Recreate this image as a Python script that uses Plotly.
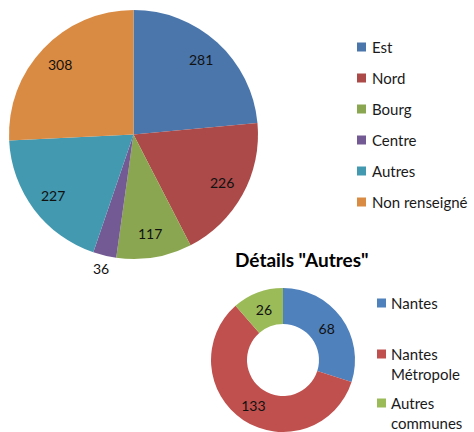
import math
import plotly.graph_objects as go

# Data
main_labels = ["Est", "Nord", "Bourg", "Centre", "Autres", "Non renseigné"]
main_values = [281, 226, 117, 36, 227, 308]
main_colors = ["#4A76AB", "#AB4A48", "#8BA650", "#745A95", "#4299B0", "#D98A43"]

detail_title = 'Détails "Autres"'
detail_labels = ["Nantes", "Nantes<br>Métropole", "Autres<br>communes"]
detail_values = [68, 133, 26]
detail_colors = ["#4F81BD", "#C0504D", "#9BBB59"]

W, H = 474, 432
FONT = "Lato"
LEG_SIZE = 15
LBL_SIZE = 14

def px(x):
    return x / W

def py(y):
    return 1 - y / H

# main pie geometry (pixels)
CX, CY, R = 133.5, 134.5, 124.5

fig = go.Figure()

fig.add_trace(go.Pie(
    labels=main_labels, values=main_values,
    marker=dict(colors=main_colors, line=dict(color="white", width=0)),
    sort=False, direction="clockwise", rotation=0,
    textinfo="none",
    domain=dict(x=[px(CX - R), px(CX + R)], y=[py(CY + R), py(CY - R)]),
    showlegend=False, hoverinfo="label+value",
))

fig.add_trace(go.Pie(
    labels=detail_labels, values=detail_values, hole=0.5,
    marker=dict(colors=detail_colors, line=dict(color="white", width=0)),
    sort=False, direction="clockwise", rotation=0,
    textinfo="value", textposition="inside",
    insidetextorientation="horizontal",
    textfont=dict(family=FONT, size=LBL_SIZE, color="#111111"),
    domain=dict(x=[px(210), px(356)], y=[0, py(288)]),
    showlegend=False, hoverinfo="label+value",
))

shapes = []
annotations = []

# data labels of the main pie, placed on each slice's bisector
total = sum(main_values)
cum = 0
for v in main_values:
    mid = 2 * math.pi * (cum + v / 2) / total
    cum += v
    frac = 0.81 if v / total > 0.05 else 1.11
    lx = CX + frac * R * math.sin(mid)
    ly = CY - frac * R * math.cos(mid)
    annotations.append(dict(text=str(v), xref="paper", yref="paper", x=px(lx), y=py(ly),
                            xanchor="center", yanchor="middle", showarrow=False,
                            font=dict(family=FONT, size=LBL_SIZE, color="#111111")))

# Legend 1
leg1_y = [47, 78, 109, 140, 171, 202]
for lab, col, yc in zip(main_labels, main_colors, leg1_y):
    shapes.append(dict(type="rect", xref="paper", yref="paper",
                       x0=px(357), x1=px(366), y0=py(yc + 4.5), y1=py(yc - 4.5),
                       fillcolor=col, line=dict(width=0)))
    annotations.append(dict(text=lab, xref="paper", yref="paper", x=px(370), y=py(yc),
                            xanchor="left", yanchor="middle", showarrow=False,
                            font=dict(family=FONT, size=LEG_SIZE, color="#1a1a1a")))

# Legend 2
leg2_y = [303, 364, 413]
for lab, col, yc in zip(detail_labels, detail_colors, leg2_y):
    lines = lab.count("<br>") + 1
    top = yc - (lines - 1) * 10
    shapes.append(dict(type="rect", xref="paper", yref="paper",
                       x0=px(377), x1=px(386), y0=py(top + 4.5), y1=py(top - 4.5),
                       fillcolor=col, line=dict(width=0)))
    annotations.append(dict(text=lab, xref="paper", yref="paper", x=px(389), y=py(yc),
                            xanchor="left", yanchor="middle", align="left", showarrow=False,
                            font=dict(family=FONT, size=LEG_SIZE, color="#1a1a1a")))

annotations.append(dict(text="<b>" + detail_title + "</b>", xref="paper", yref="paper",
                        x=px(302), y=py(259), xanchor="center", yanchor="middle",
                        showarrow=False, font=dict(family=FONT, size=19, color="#000000")))

fig.update_layout(
    width=W, height=H, margin=dict(l=0, r=0, t=0, b=0),
    paper_bgcolor="white", plot_bgcolor="white",
    shapes=shapes, annotations=annotations,
    font=dict(family=FONT),
)

fig.write_html("out.html", config={"displayModeBar": False},
               post_script="document.body.style.margin='0';document.body.style.overflow='hidden';")
